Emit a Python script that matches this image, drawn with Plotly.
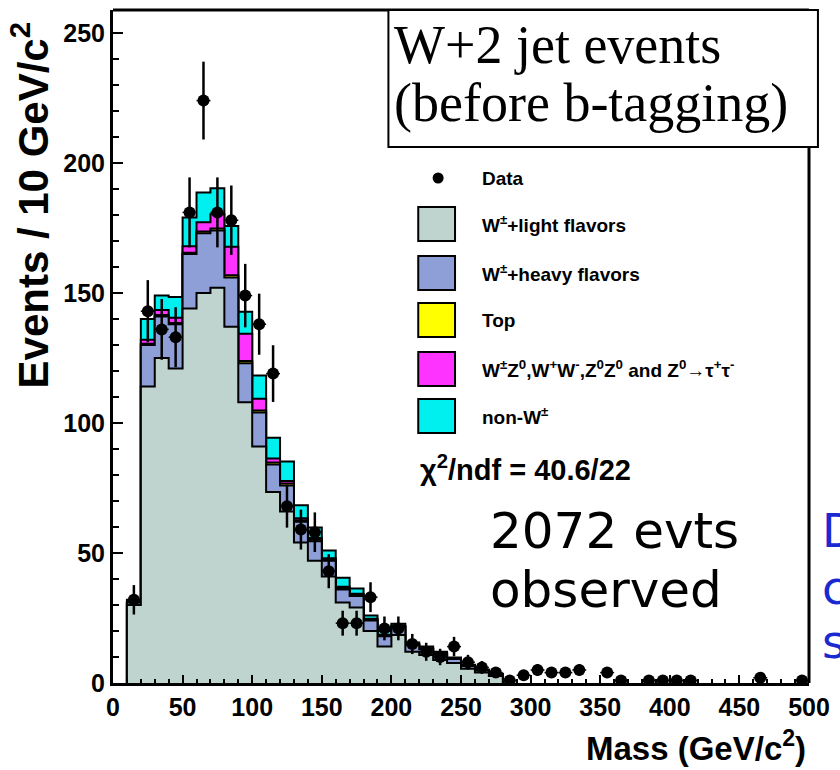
import math
import plotly.graph_objects as go

# ---- histogram content: 10 GeV/c^2 bins, lower edges ----
bin_lo = list(range(10, 280, 10))
bin_width = 10

light_flavor = [30, 114, 125, 121, 144, 150, 152, 137, 108, 91, 73.5, 66, 54, 47, 41,
                31, 29, 20, 14, 18.5, 12, 10.8, 8.8, 7.7, 5.5, 4, 2.7]
heavy_flavor = [1, 16, 16, 17, 21, 23, 22, 19, 15, 13, 10.5, 10, 8, 7.5, 6,
                5, 4.5, 4, 4, 3, 2.5, 2.2, 2.2, 1.5, 1, 0.8, 0.6]
top = [0, 0.5, 0.5, 0.5, 0.5, 0.7, 0.8, 0.8, 0.8, 0.8, 0.8, 0.7, 0.6, 0.6, 0.5,
       0.5, 0.4, 0.4, 0.3, 0.3, 0.3, 0.2, 0.2, 0.2, 0.1, 0.1, 0.1]
diboson = [0, 1.5, 2, 2, 2.5, 3.5, 5.5, 11, 10.5, 4.5, 1.5, 1, 0.8, 0.7, 0.5,
           0.5, 0.4, 0.3, 0.3, 0.2, 0.2, 0.2, 0.2, 0.1, 0.1, 0.1, 0.1]
non_w = [1, 8, 5.5, 8, 11, 11.5, 10, 8, 8.5, 9, 8, 7.5, 5, 4, 3,
         3.5, 2, 1.3, 1.4, 0.8, 0.6, 0.6, 0.6, 0.3, 0.3, 0.2, 0.1]

# ---- observed events per bin (bin centres), None = empty bin ----
data_mass = list(range(15, 500, 10))
data_counts = [32, 143, 136, 133, 181, 224, 181, 178, 149, 138, 119, 68, 59, 58, 43,
               23, 23, 33, 21, 21, 15, 12, 10, 14, 8, 6, 4, 1, 3, 5,
               4, 4, 5, None, 4, 1, None, 1, 1, 1, 1, None, None, None, None,
               2, None, None, 1]

x_ticks = list(range(0, 501, 50))
y_ticks = list(range(0, 251, 50))

components = [
    ("W<sup>\u00b1</sup>+light flavors", light_flavor, "#bfd4ce"),
    ("W<sup>\u00b1</sup>+heavy flavors", heavy_flavor, "#8d9fd6"),
    ("Top", top, "#ffff00"),
    ("W<sup>\u00b1</sup>Z<sup>0</sup>,W<sup>+</sup>W<sup>-</sup>,Z<sup>0</sup>Z<sup>0</sup> and Z<sup>0</sup>\u2192\u03c4<sup>+</sup>\u03c4<sup>-</sup>",
     diboson, "#ff33ff"),
    ("non-W<sup>\u00b1</sup>", non_w, "#00f0f0"),
]

# cumulative stack heights
stacks = []
running = [0.0] * len(bin_lo)
for name, vals, color in components:
    running = [r + v for r, v in zip(running, vals)]
    stacks.append((name, list(running), color))

fig = go.Figure()

# outermost stack first so that each inner stack is painted on top of it
step_x = [bin_lo[0]] + bin_lo + [bin_lo[-1] + bin_width]
for name, cum, color in reversed(stacks):
    fig.add_trace(go.Scatter(
        x=step_x, y=[0] + cum + [0], mode="lines", line_shape="hv",
        line=dict(color="black", width=2), fill="tozeroy", fillcolor=color,
        name=name, showlegend=False, hoverinfo="skip"))

dx = [m for m, c in zip(data_mass, data_counts) if c is not None]
dy = [c for c in data_counts if c is not None]
fig.add_trace(go.Scatter(
    x=dx, y=dy, mode="markers", name="Data", showlegend=False,
    marker=dict(color="black", size=12),
    error_y=dict(type="data", array=[math.sqrt(c) for c in dy], color="black",
                 thickness=2.5, width=0),
    error_x=dict(type="constant", value=bin_width / 2, color="black",
                 thickness=1.5, width=0)))

# plot-area geometry in pixels
L, R, T, B = 113, 813, 10, 683
W, H = 840, 770


def px(x):
    return (x - L) / (R - L)


def py(y):
    return (B - y) / (B - T)


shapes = []
annotations = []

# top and right frame edges (drawn before the caption box so it hides them)
shapes.append(dict(type="line", xref="paper", yref="paper", x0=0, x1=1, y0=1, y1=1,
                   line=dict(color="black", width=3), layer="above"))
shapes.append(dict(type="line", xref="paper", yref="paper", x0=1, x1=1, y0=0, y1=1,
                   line=dict(color="black", width=3), layer="above"))

# legend
legend_rows = [178, 224, 273, 320, 369, 416]
legend_font = dict(family="Liberation Sans", size=19, color="black", weight="bold")
annotations.append(dict(x=px(482), y=py(legend_rows[0]), xref="paper", yref="paper",
                        text="Data", showarrow=False, xanchor="left", yanchor="middle",
                        font=legend_font))
fig.add_trace(go.Scatter(x=[px(440)], y=[py(legend_rows[0])], xaxis="x2", yaxis="y2",
                         mode="markers", marker=dict(color="black", size=11),
                         showlegend=False, hoverinfo="skip"))
for (name, vals, color), yc in zip(components, legend_rows[1:]):
    shapes.append(dict(type="rect", xref="paper", yref="paper",
                       x0=px(420), x1=px(457), y0=py(yc - 17), y1=py(yc + 17),
                       fillcolor=color, line=dict(color="black", width=2), layer="above"))
    annotations.append(dict(x=px(482), y=py(yc), xref="paper", yref="paper", text=name,
                            showarrow=False, xanchor="left", yanchor="middle",
                            font=legend_font))

annotations.append(dict(x=px(420), y=py(468), xref="paper", yref="paper",
                        text="\u03c7<sup>2</sup>/ndf = 40.6/22", showarrow=False,
                        xanchor="left", yanchor="middle",
                        font=dict(family="Liberation Sans", size=29, color="black", weight="bold")))

# boxed caption
shapes.append(dict(type="rect", xref="paper", yref="paper", x0=px(390), x1=px(822),
                   y0=py(147), y1=py(10), fillcolor="white",
                   line=dict(color="black", width=2), layer="above"))
for txt, yc in [("W+2 jet events", 45), ("(before b-tagging)", 103)]:
    annotations.append(dict(x=px(394), y=py(yc), xref="paper", yref="paper", text=txt,
                            showarrow=False, xanchor="left", yanchor="middle",
                            font=dict(family="Liberation Serif", size=54, color="black")))

# event count note
for txt, yc in [("2072 evts", 531), ("observed", 590)]:
    annotations.append(dict(x=px(490), y=py(yc), xref="paper", yref="paper", text=txt,
                            showarrow=False, xanchor="left", yanchor="middle",
                            font=dict(family="DejaVu Sans", size=50, color="black")))
for txt, yc in [("D", 531), ("c", 588), ("s", 642)]:
    annotations.append(dict(x=px(824), y=py(yc), xref="paper", yref="paper", text=txt,
                            showarrow=False, xanchor="left", yanchor="middle",
                            font=dict(family="DejaVu Sans", size=46, color="#1a2ad0")))

# axis titles
annotations.append(dict(x=px(30), y=py(205), xref="paper", yref="paper",
                        text="Events / 10 GeV/c<sup>2</sup>", textangle=-90, showarrow=False,
                        xanchor="center", yanchor="middle",
                        font=dict(family="Liberation Sans", size=42, color="black", weight="bold")))
annotations.append(dict(x=px(812), y=py(746), xref="paper", yref="paper",
                        text="Mass (GeV/c<sup>2</sup>)", showarrow=False,
                        xanchor="right", yanchor="middle",
                        font=dict(family="Liberation Sans", size=33, color="black", weight="bold")))

tickfont = dict(family="Liberation Sans", size=25, color="black", weight="bold")
fig.update_layout(
    width=W, height=H,
    margin=dict(l=L, r=W - R, t=T, b=H - B, pad=0),
    paper_bgcolor="white", plot_bgcolor="white",
    showlegend=False,
    xaxis=dict(range=[0, 500], tickvals=x_ticks, ticks="inside", ticklen=8, tickwidth=2,
               tickcolor="black", minor=dict(dtick=10, ticks="inside", ticklen=4,
                                             tickwidth=1.5, tickcolor="black"),
               showline=True, linewidth=3, linecolor="black", mirror=False,
               showgrid=False, zeroline=False, tickfont=tickfont),
    yaxis=dict(range=[0, (B - T) / 2.6], tickvals=y_ticks, ticks="inside", ticklen=10,
               tickwidth=2, tickcolor="black",
               minor=dict(dtick=10, ticks="inside", ticklen=6, tickwidth=1.5, tickcolor="black"),
               showline=True, linewidth=3, linecolor="black", mirror=False,
               showgrid=False, zeroline=False, tickfont=tickfont),
    xaxis2=dict(range=[0, 1], overlaying="x", visible=False, fixedrange=True),
    yaxis2=dict(range=[0, 1], overlaying="y", visible=False, fixedrange=True),
    shapes=shapes, annotations=annotations,
)

fig.write_html("out.html")
